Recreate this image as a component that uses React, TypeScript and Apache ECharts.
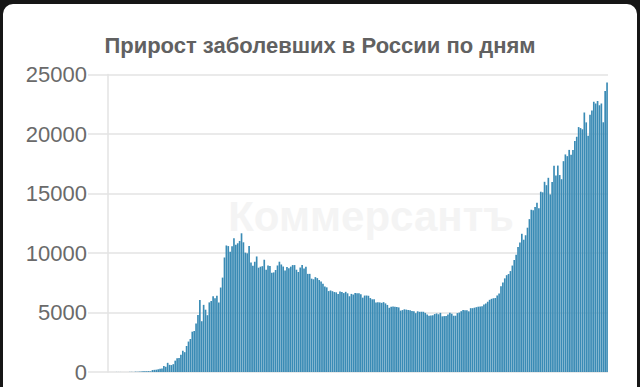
import React, { useEffect, useRef } from "react";
import * as echarts from "echarts";

// Daily new cases, 2 Mar 2020 – 20 Nov 2020
const mar = [1, 0, 0, 1, 6, 4, 3, 0, 3, 8, 6, 11, 14, 4, 30, 21, 33, 52, 54, 53, 61, 71, 57, 163, 182, 196, 228, 270, 302, 501];
const apr = [440, 771, 601, 582, 658, 954, 1154, 1175, 1459, 1786, 1667, 2186, 2558, 2774, 3388, 3448, 4070, 4785, 6060, 4268, 5642, 5236, 4774, 5849, 5966, 6361, 6198, 6411, 5841, 7099];
const may = [7933, 9623, 10633, 10581, 10102, 10559, 11231, 10699, 10817, 11012, 11656, 10899, 10028, 9974, 10598, 9200, 8926, 9263, 9709, 8764, 8849, 8894, 9434, 8599, 8946, 8915, 8338, 8371, 8572, 8952, 9268];
const jun = [9035, 8863, 8536, 8831, 8726, 8855, 8984, 8985, 8595, 8404, 8779, 8987, 8706, 8835, 8246, 8248, 7843, 7790, 7972, 7889, 7728, 7600, 7425, 7176, 7113, 6800, 6852, 6791, 6719, 6693];
const jul = [6556, 6760, 6718, 6632, 6736, 6611, 6368, 6562, 6509, 6635, 6615, 6611, 6537, 6248, 6422, 6428, 6406, 6214, 6109, 6104, 5842, 5862, 5848, 5811, 5871, 5765, 5635, 5395, 5475, 5509, 5482];
const aug = [5462, 5427, 5159, 5204, 5267, 5241, 5212, 5189, 5118, 5102, 4945, 5102, 5057, 5065, 5061, 4969, 4839, 4718, 4748, 4767, 4870, 4921, 4852, 4969, 4676, 4696, 4711, 4829, 4980, 4897, 4729];
const sep = [4729, 4952, 4995, 5110, 5205, 5195, 5185, 5099, 5363, 5363, 5405, 5449, 5488, 5509, 5529, 5670, 5762, 5905, 6065, 6148, 6196, 6215, 6431, 6595, 7212, 7523, 7867, 8135, 8232, 8481];
const oct = [8945, 9412, 9859, 10499, 10888, 11615, 11115, 11493, 12126, 12846, 13634, 13592, 13868, 14231, 13754, 15150, 15099, 15982, 15700, 16319, 14922, 15971, 17340, 16521, 17347, 16550, 16202, 17717, 18283, 18140, 18665];
const nov = [18257, 18648, 19404, 19768, 20582, 20498, 20396, 21798, 20977, 19851, 21608, 21983, 22702, 22572, 22778, 22410, 22560, 20985, 23610, 24318];

const values = [...mar, ...apr, ...may, ...jun, ...jul, ...aug, ...sep, ...oct, ...nov];
const categories = values.map((_, i) => {
  const d = new Date(Date.UTC(2020, 2, 2 + i));
  return `${d.getUTCDate()}.${d.getUTCMonth() + 1}`;
});

const titleText = "Прирост заболевших в России по дням";
const watermark = "Коммерсантъ";

export default function App() {
  const ref = useRef<HTMLDivElement>(null);
  useEffect(() => {
    if (!ref.current) return;
    const chart = echarts.init(ref.current, undefined, { renderer: "svg" });
    chart.setOption({
      animation: false,
      backgroundColor: "#161616",
      title: {
        text: titleText,
        left: "center",
        top: 29,
        textStyle: {
          fontFamily: "Liberation Sans, Arial, sans-serif",
          fontSize: 22,
          fontWeight: "bold",
          color: "#616161",
        },
      },
      graphic: [
        {
          type: "rect",
          z: -10,
          shape: { x: 3, y: 4, width: 634, height: 420, r: 10 },
          style: { fill: "#ffffff" },
        },
        {
          type: "text",
          z: 0,
          x: 371,
          y: 216,
          style: {
            text: watermark,
            fontFamily: "Liberation Sans, Arial, sans-serif",
            fontSize: 42,
            fontWeight: "bold",
            fill: "#f4f4f4",
            align: "center",
            verticalAlign: "middle",
          },
        },
      ],
      grid: { left: 108, right: 32, top: 74.5, bottom: 15, containLabel: false },
      xAxis: {
        type: "category",
        data: categories,
        boundaryGap: true,
        axisLine: { show: false },
        axisTick: { show: false },
        axisLabel: { show: false },
      },
      yAxis: {
        type: "value",
        min: 0,
        max: 25000,
        interval: 5000,
        axisLine: { show: true, lineStyle: { color: "#e3e3e3", width: 1.5 } },
        axisTick: { show: true, length: 20, lineStyle: { color: "#e3e3e3", width: 1.5 } },
        splitLine: { show: true, lineStyle: { color: "#e3e3e3", width: 1.5 } },
        axisLabel: {
          margin: 21,
          fontFamily: "Liberation Sans, Arial, sans-serif",
          fontSize: 22,
          color: "#6a6a6a",
          formatter: (v: number) => String(v),
        },
      },
      series: [
        {
          type: "bar",
          data: values,
          barCategoryGap: "12%",
          itemStyle: { color: "#3a8bb5" },
        },
      ],
    });
    return () => chart.dispose();
  }, []);
  return (
    <div
      ref={ref}
      style={{ position: "fixed", left: 0, top: 0, width: 640, height: 387 }}
    />
  );
}
